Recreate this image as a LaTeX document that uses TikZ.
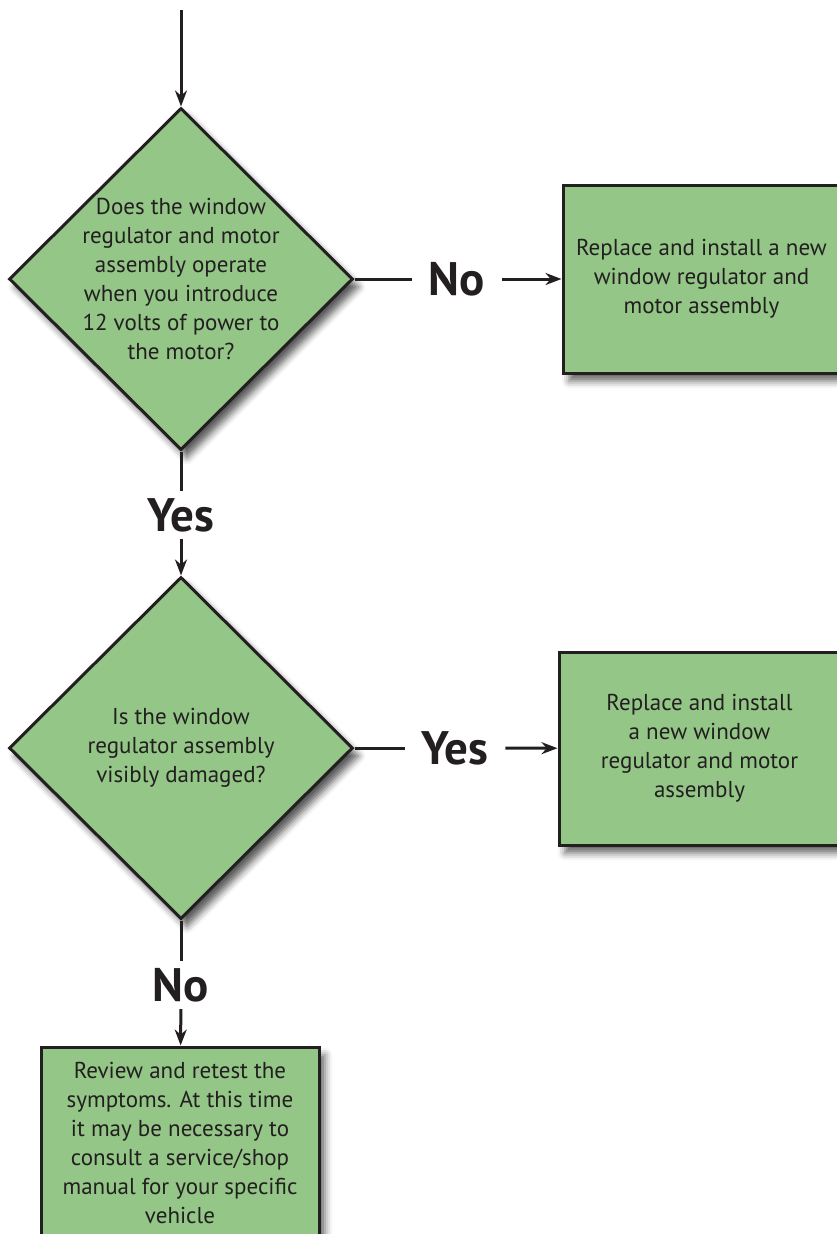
\documentclass[tikz,border=0pt]{standalone}
\usepackage{fontspec}
\setmainfont{PT Sans}
\usepackage{tikz}
\usetikzlibrary{positioning, shapes.geometric, arrows.meta, shadows, shadows.blur}
\definecolor{boxgreen}{HTML}{93C687}
\definecolor{ink}{HTML}{231F20}
\tikzstyle{question}=[diamond, draw=ink, line width=3pt, fill=boxgreen, minimum width=344pt, minimum height=342pt, inner sep=-22pt, align=center, font=\fontsize{23}{29}\selectfont, text=ink, blur shadow={shadow xshift=6pt, shadow yshift=-8pt, shadow blur radius=7pt, shadow opacity=65}]
\tikzstyle{action}=[rectangle, draw=ink, line width=3pt, fill=boxgreen, inner sep=0pt, align=center, font=\fontsize{23}{29}\selectfont, text=ink, blur shadow={shadow xshift=6pt, shadow yshift=-8pt, shadow blur radius=7pt, shadow opacity=60}]
\tikzstyle{answer}=[font=\fontsize{47}{50}\bfseries\selectfont, text=ink, inner xsep=17pt, inner ysep=7pt]
\tikzstyle{arrow}=[-{Stealth[length=16pt, width=12pt]}, draw=ink, line width=3pt]
\tikzstyle{link}=[draw=ink, line width=3pt]

\begin{document}
\begin{tikzpicture}[x=1pt, y=-1pt]
      \useasboundingbox (0,0) rectangle (837,1234);

      \coordinate (start) at (181,10);
      \node [question] (ask-1) at (181,279) {Does the window\\ regulator and motor\\ assembly operate\\ when you introduce\\ 12 volts of power to\\ the motor?};
      \node [question] (ask-2) at (181,748) {Is the window\\ regulator assembly\\ visibly damaged?};

      \node [action, minimum width=277pt, minimum height=188pt] (fix-1) at (701.5,279) {Replace and install a new\\ window regulator and\\ motor assembly};
      \node [action, minimum width=281pt, minimum height=193pt] (fix-2) at (699.5,748.5) {Replace and install\\ a new window\\ regulator and motor\\ assembly};
      \node [action, minimum width=278pt, minimum height=192pt] (review) at (180,1143) {Review and retest the\\ symptoms. At this time\\ it may be necessary to\\ consult a service/shop\\ manual for your specific\\ vehicle};

      \node [answer] (no-1) at (457,279) {No};
      \node [answer] (yes-1) at (181,515) {Yes};
      \node [answer] (yes-2) at (455,748) {Yes};
      \node [answer] (no-2) at (181,985) {No};

      \draw [arrow] (start) -- (ask-1);
      \draw [link] (ask-1.east) -- (no-1);
      \draw [arrow] (no-1) -- (fix-1);
      \draw [link] (ask-1.south) -- (yes-1);
      \draw [arrow] (yes-1) -- (ask-2);
      \draw [link] (ask-2.east) -- (yes-2);
      \draw [arrow] (yes-2) -- (fix-2);
      \draw [link] (ask-2.south) -- (no-2);
      \draw [arrow] (no-2) -- (review);
    \end{tikzpicture}
\end{document}
